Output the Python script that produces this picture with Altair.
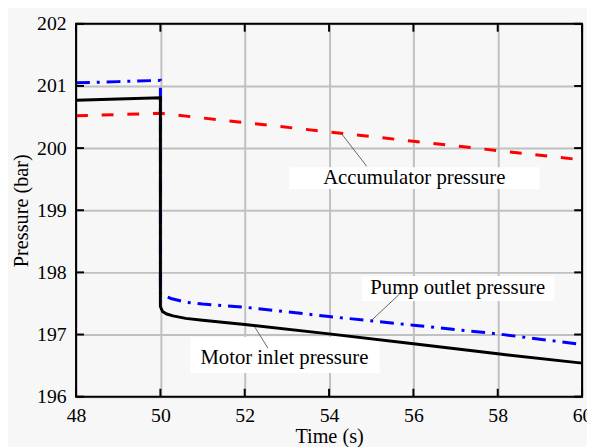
import altair as alt
import pandas as pd

# ---- data ----
time_acc = [48.0, 49.0, 50.0, 52.0, 54.0, 56.0, 58.0, 60.0]
acc_pressure = [200.52, 200.54, 200.56, 200.41, 200.26, 200.11, 199.96, 199.81]

time_pump = [48.0, 49.0, 50.0, 50.0, 50.1, 50.25, 50.6, 51.0, 52.0, 54.0, 56.0, 58.0, 60.0]
pump_pressure = [201.05, 201.07, 201.09, 197.66, 197.62, 197.58, 197.52, 197.49, 197.44, 197.29, 197.15, 197.01, 196.84]

time_motor = [48.0, 49.0, 50.0, 50.0, 50.05, 50.15, 50.3, 50.6, 51.0, 52.0, 54.0, 56.0, 58.0, 60.0]
motor_pressure = [200.77, 200.79, 200.81, 197.45, 197.37, 197.33, 197.30, 197.26, 197.23, 197.16, 197.01, 196.85, 196.69, 196.54]

x_ticks = [48, 50, 52, 54, 56, 58, 60]
y_ticks = [196, 197, 198, 199, 200, 201, 202]

labels = ["Accumulator pressure", "Pump outlet pressure", "Motor inlet pressure"]
label_t = [56.02, 57.05, 52.94]
label_p = [199.51, 197.75, 196.62]
box_t1 = [53.06, 54.78, 50.71]
box_t2 = [58.99, 59.34, 55.20]
box_p1 = [199.69, 197.94, 196.96]
box_p2 = [199.34, 197.54, 196.38]
lead_t1 = [54.31, 55.01, 52.24]
lead_p1 = [200.22, 197.23, 197.12]
lead_t2 = [54.89, 55.67, 52.55]
lead_p2 = [199.71, 197.65, 196.78]

W, H = 513, 378
FONT = "Liberation Serif"

x_enc = alt.X("t:Q", scale=alt.Scale(domain=[48, 60], nice=False),
              axis=alt.Axis(values=x_ticks, title="Time (s)", grid=True, ticks=False, tickSize=0,
                            domain=False, labelFlush=False, labelPadding=9, labelFontSize=20,
                            titleFontSize=20.5, titlePadding=1, format="d"))
y_enc = alt.Y("p:Q", scale=alt.Scale(domain=[196, 202], nice=False, zero=False),
              axis=alt.Axis(values=y_ticks, title="Pressure (bar)", grid=True, ticks=False, tickSize=0,
                            domain=False, labelPadding=10, labelFontSize=20,
                            titleFontSize=20.5, titlePadding=5, format="d"))


def series_layer(times, values, color, dash, width=3):
    df = pd.DataFrame({"t": times, "p": values, "i": list(range(len(times)))})
    if dash:
        mark = alt.Chart(df).mark_line(color=color, strokeWidth=width, strokeDash=dash)
    else:
        mark = alt.Chart(df).mark_line(color=color, strokeWidth=width)
    return mark.encode(x=x_enc, y=y_enc, order="i:Q")


acc_layer = series_layer(time_acc, acc_pressure, "#ff0000", [12, 14])
pump_layer = series_layer(time_pump, pump_pressure, "#0000ff", [14, 7, 3, 7])
motor_layer = series_layer(time_motor, motor_pressure, "#000000", None)

box_df = pd.DataFrame({"t": box_t1, "t2": box_t2, "p": box_p1, "p2": box_p2})
lead_df = pd.DataFrame({"t": lead_t1, "t2": lead_t2, "p": lead_p1, "p2": lead_p2})
text_df = pd.DataFrame({"label": labels, "t": label_t, "p": label_p})

boxes = alt.Chart(box_df).mark_rect(fill="white").encode(
    x=x_enc, x2="t2:Q", y=y_enc, y2="p2:Q")

leaders = alt.Chart(lead_df).mark_rule(color="#555555", strokeWidth=0.9).encode(
    x=x_enc, x2="t2:Q", y=y_enc, y2="p2:Q")

texts = alt.Chart(text_df).mark_text(font=FONT, fontSize=21, color="black", align="center",
                                     baseline="middle").encode(x=x_enc, y=y_enc, text="label:N")

xt = pd.DataFrame({"t": x_ticks})
yt = pd.DataFrame({"p": y_ticks})
tick_bottom = alt.Chart(xt).mark_rule(color="black", strokeWidth=2).encode(
    x=x_enc, y=alt.value(H), y2=alt.value(H - 8))
tick_top = alt.Chart(xt).mark_rule(color="black", strokeWidth=2).encode(
    x=x_enc, y=alt.value(0), y2=alt.value(8))
tick_left = alt.Chart(yt).mark_rule(color="black", strokeWidth=2).encode(
    y=y_enc, x=alt.value(0), x2=alt.value(8))
tick_right = alt.Chart(yt).mark_rule(color="black", strokeWidth=2).encode(
    y=y_enc, x=alt.value(W), x2=alt.value(W - 8))

frame = alt.Chart(xt.head(1)).mark_rect(filled=False, stroke="black", strokeWidth=2).encode(
    x=alt.value(0), x2=alt.value(W), y=alt.value(0), y2=alt.value(H))

chart = alt.layer(
    acc_layer, boxes, pump_layer, motor_layer, leaders, texts,
    tick_bottom, tick_top, tick_left, tick_right, frame
).properties(
    width=W, height=H,
    padding={"left": 69, "top": 13, "right": 5, "bottom": 48},
    autosize=alt.AutoSizeParams(type="none"),
    background="#f7f7f7",
).configure_view(strokeWidth=0).configure_axis(
    labelFont=FONT, titleFont=FONT, labelColor="black", titleColor="black",
    titleFontWeight="normal", gridColor="#c0c0c0", gridWidth=2
)

chart.save("out.html", embed_options={"renderer": "svg", "actions": False})
